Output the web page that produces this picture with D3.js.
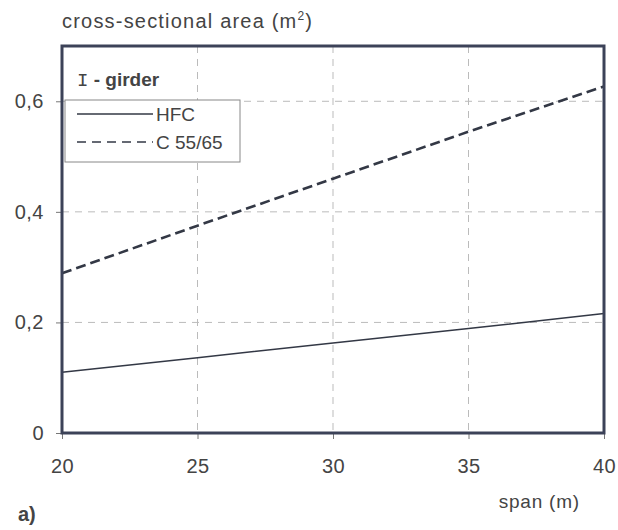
<!DOCTYPE html>
<html>
<head>
<meta charset="utf-8">
<script src="https://cdn.jsdelivr.net/npm/d3@7"></script>
<style>
  body { margin: 0; background: #fff; }
  text { font-family: "Liberation Sans", Arial, sans-serif; fill: #444; }
</style>
</head>
<body>
<div id="root"></div>
<script>
const spans = [20, 25, 30, 35, 40];
const hfc = [0.11, 0.136, 0.163, 0.189, 0.216];
const c5565 = [0.289, 0.375, 0.46, 0.545, 0.627];
const xTicks = [20, 25, 30, 35, 40];
const yTicks = [0, 0.2, 0.4, 0.6];
const series = [
  { name: "HFC", values: hfc, dash: null },
  { name: "C 55/65", values: c5565, dash: "10,5" },
];

const width = 618, height = 530;
const margin = { left: 62, right: 14, top: 46, bottom: 97 };

const x = d3.scaleLinear().domain([20, 40]).range([margin.left, width - margin.right]);
const y = d3.scaleLinear().domain([0, 0.7]).range([height - margin.bottom, margin.top]);

const svg = d3.select("#root").append("svg").attr("width", width).attr("height", height);

// grid
svg.append("g")
  .selectAll("line")
  .data(xTicks.slice(1, -1))
  .join("line")
  .attr("x1", (d) => x(d)).attr("x2", (d) => x(d))
  .attr("y1", y(0.7)).attr("y2", y(0))
  .attr("stroke", "#bbb").attr("stroke-dasharray", "7,6");
svg.append("g")
  .selectAll("line")
  .data(yTicks.slice(1))
  .join("line")
  .attr("x1", x(20)).attr("x2", x(40))
  .attr("y1", (d) => y(d)).attr("y2", (d) => y(d))
  .attr("stroke", "#bbb").attr("stroke-dasharray", "7,6");

// axes
const fmt = (d) => (d === 0 ? "0" : d3.format(".1f")(d).replace(".", ","));
const yAxis = svg.append("g")
  .attr("transform", `translate(${margin.left},0)`)
  .call(d3.axisLeft(y).tickValues(yTicks).tickFormat(fmt).tickSize(6).tickPadding(12));
const xAxis = svg.append("g")
  .attr("transform", `translate(0,${height - margin.bottom})`)
  .call(d3.axisBottom(x).tickValues(xTicks).tickSize(6).tickPadding(20));
[xAxis, yAxis].forEach((a) => {
  a.select(".domain").remove();
  a.selectAll("line").attr("stroke", "#777");
  a.selectAll("text").attr("font-size", 20).attr("fill", "#444")
    .attr("font-family", "Liberation Sans, Arial, sans-serif").attr("letter-spacing", 0.5);
});

// lines
const line = d3.line().x((d, i) => x(spans[i])).y((d) => y(d));
svg.append("g")
  .selectAll("path")
  .data(series)
  .join("path")
  .attr("d", (d) => line(d.values))
  .attr("fill", "none")
  .attr("stroke", "#333845")
  .attr("stroke-width", (d) => (d.dash ? 2.6 : 1.5))
  .attr("stroke-dasharray", (d) => d.dash);

// frame
svg.append("rect")
  .attr("x", x(20)).attr("y", y(0.7))
  .attr("width", x(40) - x(20)).attr("height", y(0) - y(0.7))
  .attr("fill", "none").attr("stroke", "#3c4258").attr("stroke-width", 3);

// legend
const lt = svg.append("text").attr("x", 77).attr("y", 86).attr("font-size", 19);
lt.append("tspan").attr("font-family", "Liberation Mono, monospace").text("I");
lt.append("tspan").attr("font-weight", "bold").text(" - girder");
svg.append("rect")
  .attr("x", 65).attr("y", 100).attr("width", 175).attr("height", 62)
  .attr("fill", "#fff").attr("stroke", "#888").attr("stroke-width", 1);
const leg = svg.append("g")
  .selectAll("g")
  .data(series)
  .join("g")
  .attr("transform", (d, i) => `translate(77,${114 + i * 28})`);
leg.append("line")
  .attr("x1", 0).attr("x2", 76)
  .attr("stroke", "#333845").attr("stroke-width", 1.6)
  .attr("stroke-dasharray", (d) => (d.dash ? "9,6" : null));
leg.append("text").attr("x", 79).attr("y", 7).attr("font-size", 19).text((d) => d.name);

// titles
const yt = svg.append("text").attr("x", 62).attr("y", 28).attr("font-size", 20).attr("letter-spacing", 1.2);
yt.append("tspan").text("cross-sectional area (m");
yt.append("tspan").attr("font-size", 12).attr("dy", -8).text("2");
yt.append("tspan").attr("dy", 8).text(")");
svg.append("text").attr("x", 580).attr("y", 508).attr("text-anchor", "end")
  .attr("font-size", 19).attr("letter-spacing", 0.8).text("span (m)");
svg.append("text").attr("x", 18).attr("y", 521)
  .attr("font-size", 20).attr("font-weight", "bold").text("a)");
</script>
</body>
</html>
